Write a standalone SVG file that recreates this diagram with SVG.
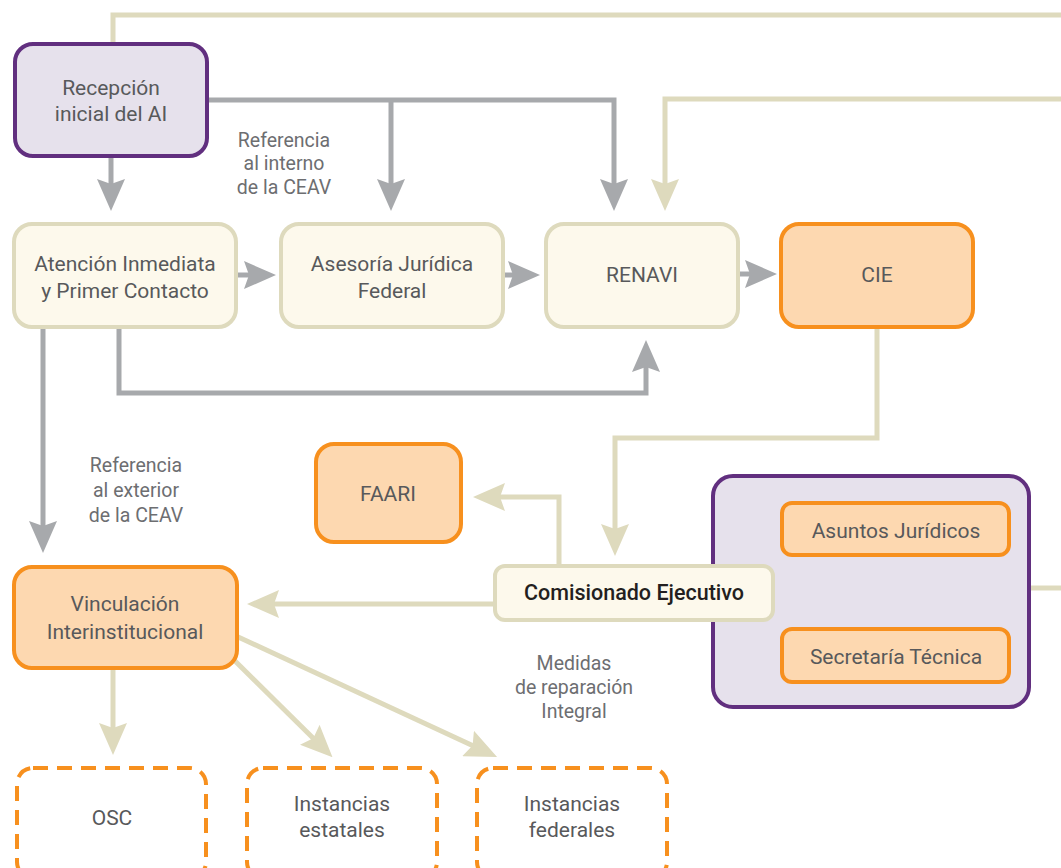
<svg xmlns="http://www.w3.org/2000/svg" width="1061" height="868" viewBox="0 0 1061 868">
<defs>
<marker id="ag" markerUnits="userSpaceOnUse" markerWidth="32" markerHeight="28" viewBox="0 0 32 28" refX="6" refY="14" orient="auto"><path d="M0,0 L32,14 L0,28 L5,14 Z" fill="#a7a9ac"/></marker>
<marker id="ab" markerUnits="userSpaceOnUse" markerWidth="32" markerHeight="28" viewBox="0 0 32 28" refX="6" refY="14" orient="auto"><path d="M0,0 L32,14 L0,28 L5,14 Z" fill="#dedabd"/></marker>
<style>
.g{fill:none;stroke:#a7a9ac;stroke-width:5}
.b{fill:none;stroke:#dedabd;stroke-width:5}
.beige{fill:#fdf9ec;stroke:#dedabd;stroke-width:4}
.or{fill:#fdd8b0;stroke:#f7901e;stroke-width:4}
.pu{fill:#e6e1ec;stroke:#612f7f;stroke-width:4}
.da{fill:#ffffff;stroke:#f7901e;stroke-width:4;stroke-dasharray:15 9}
text{font-family:Roboto,"Liberation Sans",sans-serif;text-anchor:middle}
.t{font-size:21px;fill:#58595b}
.d{font-size:21.5px;fill:#231f20;font-weight:500}
.n{font-size:19.5px;fill:#6d6e71}
</style>
</defs>
<g id="connectors">
<path class="b" d="M113,44 V15 H1061"/>
<path class="b" d="M1061,99 H665 V185" marker-end="url(#ab)"/>
<path class="g" d="M111,157 V185" marker-end="url(#ag)"/>
<path class="g" d="M207,100 H614 V185" marker-end="url(#ag)"/>
<path class="g" d="M391,100 V185" marker-end="url(#ag)"/>
<path class="g" d="M237,275 H250" marker-end="url(#ag)"/>
<path class="g" d="M503,275 H514" marker-end="url(#ag)"/>
<path class="g" d="M739,274 H751" marker-end="url(#ag)"/>
<path class="g" d="M119,327 V393 H646 V366" marker-end="url(#ag)"/>
<path class="g" d="M43,327 V527" marker-end="url(#ag)"/>
<path class="b" d="M877,327 V438 H615 V530" marker-end="url(#ab)"/>
<path class="b" d="M559,566 V497 H499" marker-end="url(#ab)"/>
<path class="b" d="M495,604 H273" marker-end="url(#ab)"/>
<path class="b" d="M1029,588 H1061"/>
<path class="b" d="M113,668 V729" marker-end="url(#ab)"/>
<path class="b" d="M232,658 L314,739" marker-end="url(#ab)"/>
<path class="b" d="M236,636 L473.5,746" marker-end="url(#ab)"/>
</g>
<g id="n-recepcion"><rect class="pu" x="15" y="44" width="192" height="112" rx="18"/><text class="t" x="111" y="95">Recepción</text><text class="t" x="111" y="121">inicial del AI</text></g>
<g id="n-atencion"><rect class="beige" x="14" y="224" width="222" height="103" rx="18"/><text class="t" x="125" y="271">Atención Inmediata</text><text class="t" x="125" y="298">y Primer Contacto</text></g>
<g id="n-asesoria"><rect class="beige" x="281" y="224" width="222" height="103" rx="18"/><text class="t" x="392" y="271">Asesoría Jurídica</text><text class="t" x="392" y="298">Federal</text></g>
<g id="n-renavi"><rect class="beige" x="546" y="224" width="192" height="103" rx="18"/><text class="t" x="642" y="282">RENAVI</text></g>
<g id="n-cie"><rect class="or" x="781" y="224" width="192" height="103" rx="18"/><text class="t" x="877" y="282">CIE</text></g>
<g id="n-faari"><rect class="or" x="316" y="444" width="145" height="98" rx="18"/><text class="t" x="388" y="501">FAARI</text></g>
<g id="n-grupo"><rect class="pu" x="713" y="476" width="316" height="231" rx="20"/></g>
<g id="n-asuntos"><rect class="or" x="782" y="503" width="227" height="52" rx="10"/><text class="t" x="896" y="538">Asuntos Jurídicos</text></g>
<g id="n-secretaria"><rect class="or" x="782" y="629" width="227" height="53" rx="10"/><text class="t" x="896" y="664">Secretaría Técnica</text></g>
<g id="n-comisionado"><rect class="beige" x="495" y="566" width="278" height="54" rx="10"/><text class="d" x="634" y="600">Comisionado Ejecutivo</text></g>
<g id="n-vinculacion"><rect class="or" x="14" y="567" width="223" height="101" rx="18"/><text class="t" x="125" y="611">Vinculación</text><text class="t" x="125" y="639">Interinstitucional</text></g>
<g id="n-osc"><rect class="da" x="17" y="768" width="189" height="110" rx="16"/><text class="t" x="112" y="825">OSC</text></g>
<g id="n-estatales"><rect class="da" x="247" y="768" width="190" height="110" rx="16"/><text class="t" x="342" y="811">Instancias</text><text class="t" x="342" y="837">estatales</text></g>
<g id="n-federales"><rect class="da" x="477" y="768" width="190" height="110" rx="16"/><text class="t" x="572" y="811">Instancias</text><text class="t" x="572" y="837">federales</text></g>
<g id="labels">
<text class="n" x="284" y="147">Referencia</text><text class="n" x="284" y="170">al interno</text><text class="n" x="284" y="194">de la CEAV</text>
<text class="n" x="136" y="472">Referencia</text><text class="n" x="136" y="497">al exterior</text><text class="n" x="136" y="522">de la CEAV</text>
<text class="n" x="574" y="670">Medidas</text><text class="n" x="574" y="694">de reparación</text><text class="n" x="574" y="718">Integral</text>
</g>
</svg>
